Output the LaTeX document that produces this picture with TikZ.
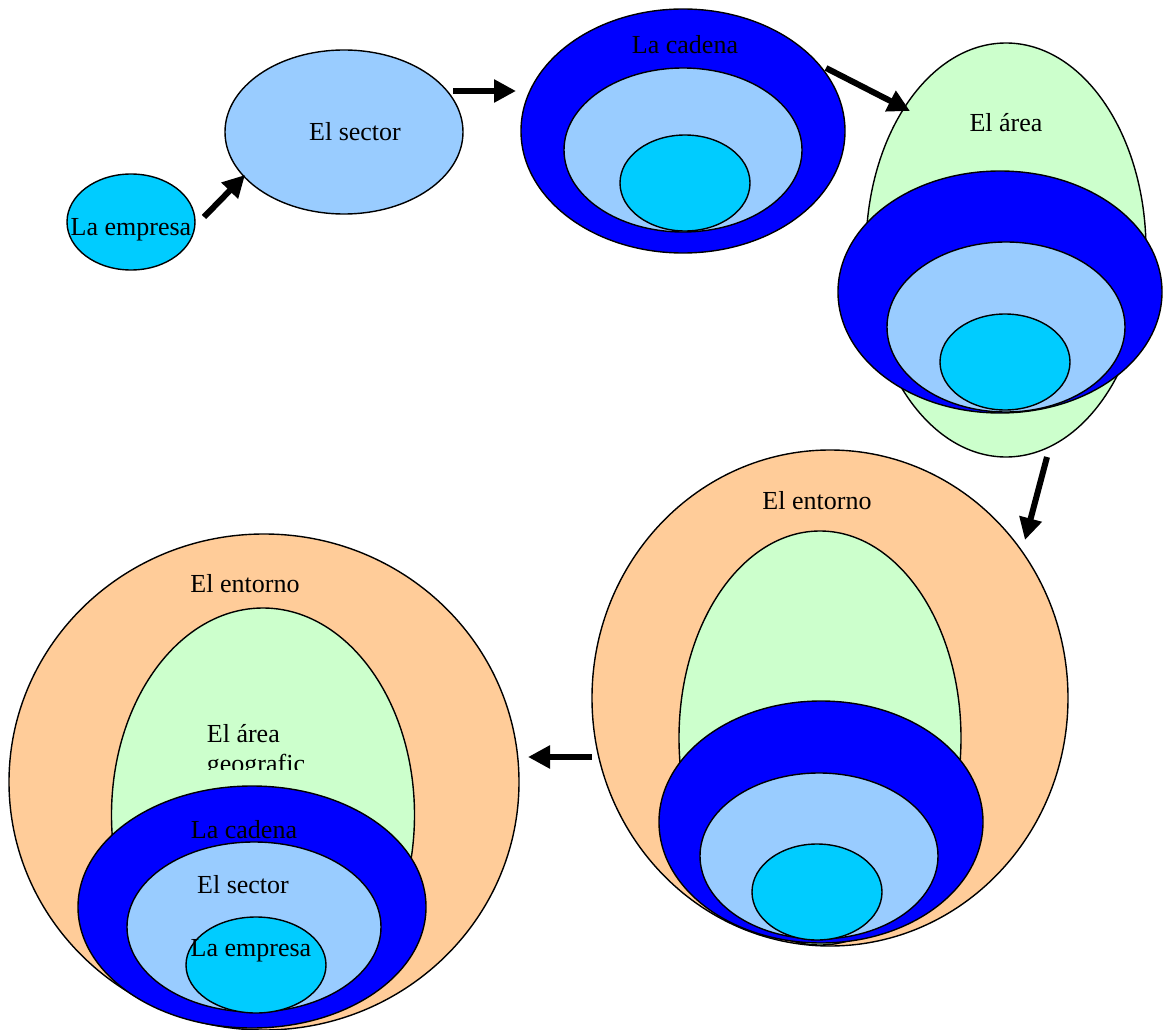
\documentclass[tikz,border=0pt]{standalone}
\usepackage{fontspec}
\setmainfont{Liberation Serif}
\usetikzlibrary{shapes.geometric,arrows.meta}
\definecolor{cyanE}{HTML}{00CCFF}
\definecolor{lblue}{HTML}{99CCFF}
\definecolor{dblue}{HTML}{0000FF}
\definecolor{lgreen}{HTML}{CCFFCC}
\definecolor{peach}{HTML}{FFCC99}
\tikzset{
  ell/.style={ellipse, draw=black, line width=1.4pt, inner sep=0pt, outer sep=0pt},
  lbl/.style={font=\fontsize{26}{30}\selectfont, inner sep=0pt, text=black},
  blockarrow/.style={line width=6pt, -{Triangle[width=22pt,length=22pt]}, shorten >=0pt}
}
\begin{document}
\begin{tikzpicture}[x=1pt,y=-1pt]
\useasboundingbox (0,0) rectangle (1163,1030);
% ---- group 1: La empresa
\node[ell, fill=cyanE, minimum width=128pt, minimum height=96pt] (emp1) at (131,222) {};
\node[lbl] (temp1) at (131,230) {La empresa};
% ---- group 2: El sector
\node[ell, fill=lblue, minimum width=238pt, minimum height=164pt] (sec2) at (344,132) {};
\node[lbl] (tsec2) at (355,132) {El sector};
% ---- group 3: La cadena
\node[ell, fill=dblue, minimum width=324pt, minimum height=244pt] (cad3) at (683,131) {};
\node[ell, fill=lblue, minimum width=238pt, minimum height=164pt] (sec3) at (683,150) {};
\node[ell, fill=cyanE, minimum width=130pt, minimum height=96pt] (emp3) at (685,183) {};
\node[lbl] (tcad3) at (685,45) {La cadena};
% ---- group 4: El área
\node[ell, fill=lgreen, minimum width=280pt, minimum height=414pt] (area4) at (1006,250) {};
\node[ell, fill=dblue, minimum width=324pt, minimum height=242pt] (cad4) at (1000,292) {};
\node[ell, fill=lblue, minimum width=238pt, minimum height=170pt] (sec4) at (1006,327) {};
\node[ell, fill=cyanE, minimum width=130pt, minimum height=96pt] (emp4) at (1005,362) {};
\node[lbl] (tarea4) at (1006,123) {El área};
% ---- group 5: El entorno (right)
\node[ell, fill=peach, minimum width=476pt, minimum height=496pt] (ent5) at (830,698) {};
\node[ell, fill=lgreen, minimum width=282pt, minimum height=414pt] (area5) at (820,738) {};
\node[ell, fill=dblue, minimum width=324pt, minimum height=242pt] (cad5) at (821,822) {};
\node[ell, fill=lblue, minimum width=238pt, minimum height=166pt] (sec5) at (819,856) {};
\node[ell, fill=cyanE, minimum width=130pt, minimum height=96pt] (emp5) at (817,892) {};
\node[lbl] (tent5) at (817,501) {El entorno};
% ---- group 6: El entorno (left)
\node[ell, fill=peach, minimum width=510pt, minimum height=496pt] (ent6) at (264,782) {};
\node[ell, fill=lgreen, minimum width=303pt, minimum height=414pt] (area6) at (263,815) {};
\begin{scope}
  \clip (150,700) rectangle (400,769);
  \node[lbl, align=left] (tarea6) at (256,751) {El área\\geografic};
\end{scope}
\node[ell, fill=dblue, minimum width=348pt, minimum height=242pt] (cad6) at (252,907) {};
\node[ell, fill=lblue, minimum width=254pt, minimum height=170pt] (sec6) at (254,927) {};
\node[ell, fill=cyanE, minimum width=140pt, minimum height=96pt] (emp6) at (256,965) {};
\node[lbl] (tent6) at (245,584) {El entorno};
\node[lbl] (tcad6) at (244,830) {La cadena};
\node[lbl] (tsec6) at (243,885) {El sector};
\node[lbl] (temp6) at (251,951) {La empresa};
% ---- arrows
\coordinate (a1s) at (204,217); \coordinate (a1e) at (245,175);
\coordinate (a2s) at (453,91);  \coordinate (a2e) at (516,91);
\coordinate (a3s) at (826,68);  \coordinate (a3e) at (910,111);
\coordinate (a4s) at (1047,457); \coordinate (a4e) at (1025,540);
\coordinate (a5s) at (592,757); \coordinate (a5e) at (528,757);
\draw[blockarrow] (a1s) -- (a1e);
\draw[blockarrow] (a2s) -- (a2e);
\draw[blockarrow] (a3s) -- (a3e);
\draw[blockarrow] (a4s) -- (a4e);
\draw[blockarrow] (a5s) -- (a5e);
\end{tikzpicture}
\end{document}
